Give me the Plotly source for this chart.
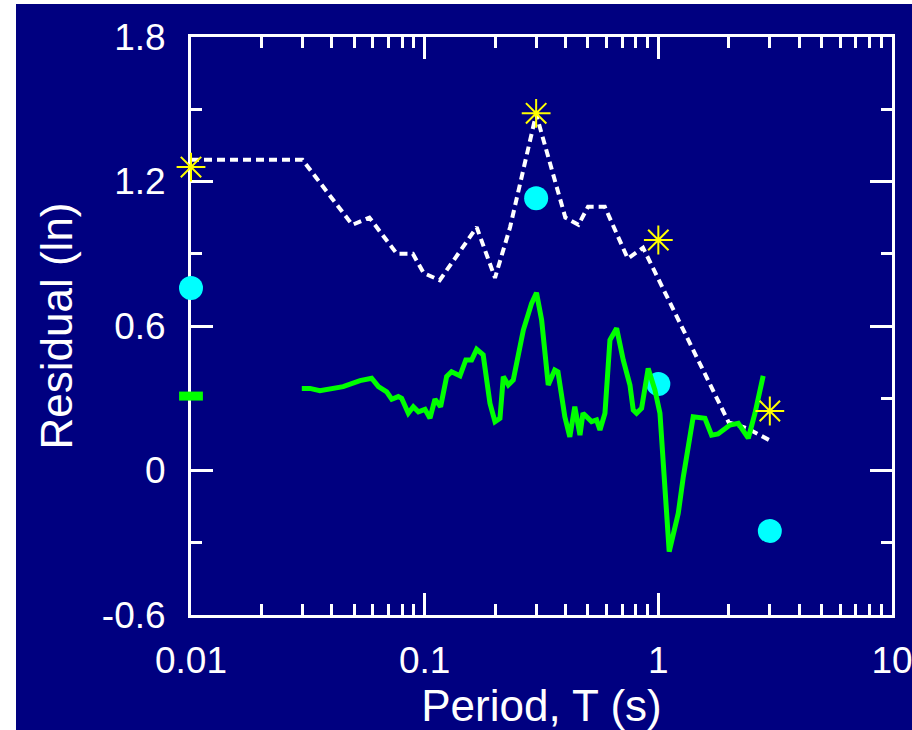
import plotly.graph_objects as go

# ---------------- data ----------------
T_upper = [0.01, 0.03, 0.049, 0.058, 0.076, 0.089, 0.099, 0.116, 0.167, 0.20,
           0.232, 0.30, 0.40, 0.455, 0.50, 0.59, 0.74, 0.86, 2.0, 2.4, 3.0]
R_upper = [1.29, 1.29, 1.02, 1.05, 0.90, 0.90, 0.82, 0.79, 1.01, 0.80,
           1.01, 1.48, 1.05, 1.02, 1.095, 1.095, 0.88, 0.925, 0.20, 0.175, 0.125]

T_green = [0.0298, 0.0323, 0.0356, 0.0448, 0.0529, 0.0593, 0.0634, 0.0688, 0.0723, 0.0771,
           0.0797, 0.0851, 0.0894, 0.0940, 0.1003, 0.1054, 0.1107, 0.117, 0.1242, 0.1303,
           0.1416, 0.150, 0.1588, 0.1669, 0.178, 0.1903, 0.200, 0.210, 0.2171, 0.228,
           0.2394, 0.2644, 0.2868, 0.301, 0.3166, 0.338, 0.3603, 0.372, 0.398, 0.418,
           0.439, 0.462, 0.476, 0.518, 0.544, 0.5626, 0.591, 0.6208, 0.663, 0.7075,
           0.756, 0.781, 0.807, 0.848, 0.905, 0.967, 1.016, 1.113, 1.217, 1.279,
           1.41, 1.583, 1.69, 1.80, 2.025, 2.198, 2.426, 2.592, 2.81]
R_green = [0.341, 0.341, 0.331, 0.348, 0.373, 0.383, 0.348, 0.327, 0.296, 0.307,
           0.300, 0.238, 0.265, 0.244, 0.254, 0.217, 0.296, 0.265, 0.390, 0.410,
           0.393, 0.459, 0.459, 0.503, 0.480, 0.279, 0.203, 0.217, 0.390, 0.355,
           0.376, 0.583, 0.694, 0.738, 0.625, 0.355, 0.417, 0.410, 0.223, 0.140,
           0.265, 0.147, 0.238, 0.203, 0.210, 0.168, 0.238, 0.542, 0.591, 0.459,
           0.355, 0.251, 0.238, 0.258, 0.424, 0.334, 0.238, -0.337, -0.178, -0.026,
           0.223, 0.217, 0.147, 0.152, 0.189, 0.196, 0.134, 0.238, 0.393]

T_star = [0.01, 0.3, 1.0, 3.0]
R_star = [1.26, 1.483, 0.957, 0.247]

T_circle = [0.01, 0.3, 1.0, 3.0]
R_circle = [0.758, 1.130, 0.359, -0.251]

T_square = [0.01]
R_square = [0.309]

x_tickvals = [0.01, 0.1, 1, 10]
x_ticktext = ["0.01", "0.1", "1", "10"]
y_tickvals = [-0.6, 0, 0.6, 1.2, 1.8]
y_ticktext = ["-0.6", "0", "0.6", "1.2", "1.8"]
y_minorvals = [-0.3, 0.3, 0.9, 1.5]
x_minorvals = [m * d for d in (0.01, 0.1, 1) for m in range(2, 10)]

NAVY = "#000080"
FONT = "Liberation Sans, Arial, sans-serif"

fig = go.Figure()
fig.add_trace(go.Scatter(x=T_circle, y=R_circle, mode="markers", cliponaxis=False,
                         marker=dict(symbol="circle", size=24, color="#00FFFF"),
                         showlegend=False))
fig.add_trace(go.Scatter(x=T_upper, y=R_upper, mode="lines", cliponaxis=False,
                         line=dict(color="white", width=4, dash="8px,5px"),
                         showlegend=False))
fig.add_trace(go.Scatter(x=T_green, y=R_green, mode="lines", cliponaxis=False,
                         line=dict(color="#00FF00", width=5),
                         showlegend=False))
fig.add_trace(go.Scatter(x=T_square, y=R_square, mode="markers", cliponaxis=False,
                         marker=dict(symbol="line-ew-open", size=17, color="#00FF00",
                                     line=dict(color="#00FF00", width=9)),
                         showlegend=False))
fig.add_trace(go.Scatter(x=T_star, y=R_star, mode="markers", cliponaxis=False,
                         marker=dict(symbol="asterisk-open", size=24, color="#FFFF00",
                                     line=dict(color="#FFFF00", width=2)),
                         showlegend=False))

axis_common = dict(showline=True, linecolor="white", linewidth=3, mirror="ticks",
                   ticks="inside", tickcolor="white", tickwidth=3, ticklen=22,
                   showgrid=False, zeroline=False, layer="below traces",
                   ticklabeloverflow="allow",
                   tickfont=dict(family=FONT, size=37, color="white"))

fig.update_xaxes(type="log", range=[-2, 1], tickmode="array",
                 tickvals=x_tickvals, ticktext=x_ticktext,
                 minor=dict(tickmode="array", tickvals=x_minorvals, ticks="inside",
                            ticklen=11, tickwidth=3, tickcolor="white", showgrid=False),
                 title=dict(text="Period, T (s)", font=dict(family=FONT, size=44, color="white"),
                            standoff=5),
                 ticklabelstandoff=11,
                 **axis_common)
fig.update_yaxes(range=[-0.6, 1.8], tickmode="array",
                 tickvals=y_tickvals, ticktext=y_ticktext,
                 minor=dict(tickmode="array", tickvals=y_minorvals, ticks="inside",
                            ticklen=11, tickwidth=3, tickcolor="white", showgrid=False),
                 title=dict(text="Residual (ln)", font=dict(family=FONT, size=44, color="white"),
                            standoff=16),
                 ticklabelstandoff=15,
                 **axis_common)

# white strips at left and top edges of the picture
PW, PH = 701.0, 578.0
fig.add_shape(type="rect", xref="paper", yref="paper", layer="below",
              x0=-191 / PW, x1=(16 - 191) / PW, y0=-115 / PH, y1=615 / PH,
              fillcolor="white", line=dict(width=0))
fig.add_shape(type="rect", xref="paper", yref="paper", layer="below",
              x0=-191 / PW, x1=721 / PW, y0=(615 - 4) / PH, y1=615 / PH,
              fillcolor="white", line=dict(width=0))

fig.update_layout(width=912, height=730,
                  margin=dict(l=191, r=20, t=37, b=115, autoexpand=False),
                  paper_bgcolor=NAVY, plot_bgcolor=NAVY,
                  font=dict(family=FONT, color="white"))

fig.write_html("out.html", config={"displayModeBar": False},
               post_script="document.body.style.margin='0';")
